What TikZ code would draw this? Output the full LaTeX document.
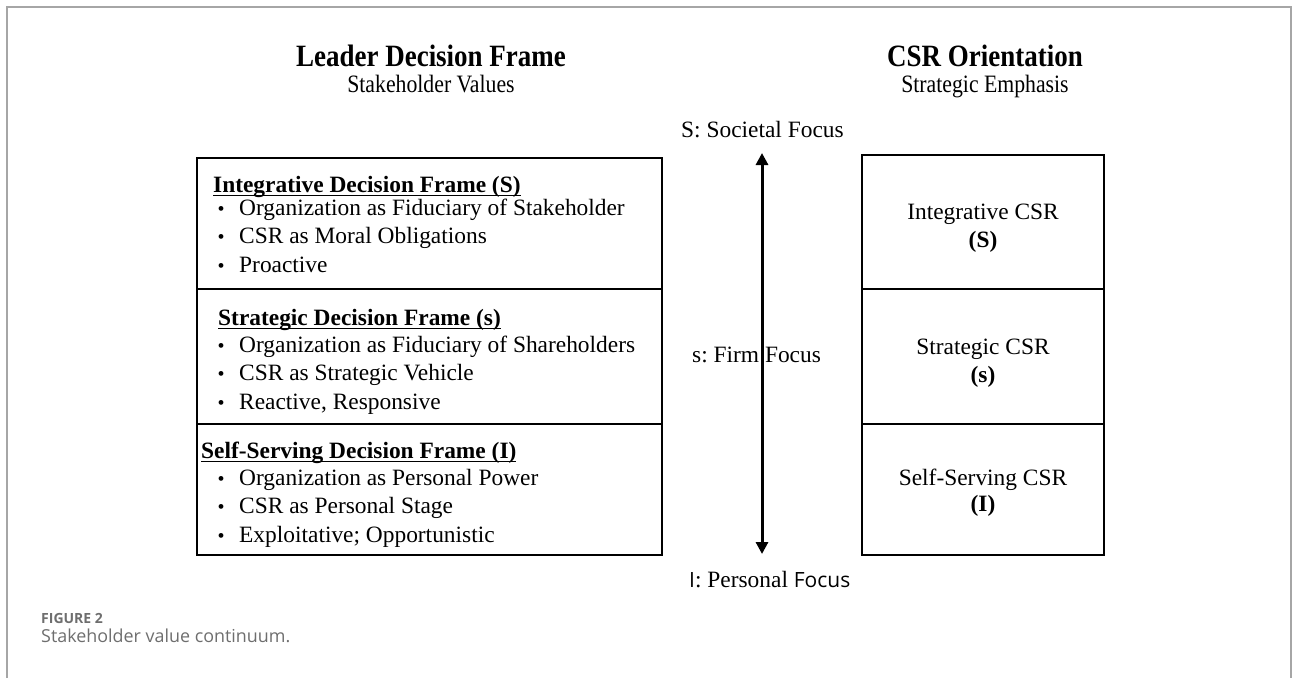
\documentclass[tikz,border=0pt]{standalone}
\usepackage{fontspec}
\setmainfont{Liberation Serif}
\newfontfamily\headfont{Liberation Serif}[FakeStretch=0.87]
\newfontfamily\capfont{Open Sans}
\usetikzlibrary{arrows.meta}
\definecolor{framegray}{HTML}{A6A6A6}
\definecolor{capgray}{HTML}{6E6E6E}
\frenchspacing
% underline drawn just below the baseline
\newcommand\frameul[1]{\setbox0\hbox{#1}\rlap{\rule[-4pt]{\wd0}{1.4pt}}\box0}
\begin{document}
\begin{tikzpicture}[x=1pt,y=-1pt,
  body/.style={inner sep=0pt, anchor=base west, font=\fontsize{23.4}{28}\selectfont},
  bodyc/.style={body, anchor=base},
  bullet/.style={inner sep=0pt, anchor=base, font=\fontsize{20}{24}\selectfont},
  headttl/.style={inner sep=0pt, anchor=base, font=\headfont\bfseries\fontsize{31}{36}\selectfont},
  headsub/.style={inner sep=0pt, anchor=base, font=\headfont\fontsize{25}{30}\selectfont},
  framebox/.style={draw, line width=1.8pt, inner sep=0pt, minimum width=465pt},
  csrbox/.style={draw, line width=1.8pt, inner sep=0pt, minimum width=242pt},
  scale arrow/.style={line width=3pt, {Triangle[length=12pt,width=12pt]}-{Triangle[length=12pt,width=12pt]}}
]
\useasboundingbox (0,0) rectangle (1293,678);
% page frame
\draw[framegray, line width=2pt] (7,678) -- (7,7) -- (1291,7) -- (1291,678);

% column headings
\node[headttl] (lt) at (431,66) {Leader Decision Frame};
\node[headsub] (ls) at (431,92) {Stakeholder Values};
\node[headttl] (rt) at (985,66) {CSR Orientation};
\node[headsub] (rs) at (985,92) {Strategic Emphasis};

% leader decision frames
\node[framebox, minimum height=131pt] (f1) at (429.5,223.5) {};
\node[framebox, minimum height=135pt] (f2) at (429.5,356.5) {};
\node[framebox, minimum height=131pt] (f3) at (429.5,489.5) {};

\node[body, font=\fontsize{23.4}{28}\selectfont\bfseries] (f1h) at (213,192) {\frameul{Integrative Decision Frame (S)}};
\node[bullet] (f1b1) at (221,215) {•};
\node[body] (f1t1) at (239,215) {Organization as Fiduciary of Stakeholder};
\node[bullet] (f1b2) at (221,243) {•};
\node[body] (f1t2) at (239,243) {CSR as Moral Obligations};
\node[bullet] (f1b3) at (221,272) {•};
\node[body] (f1t3) at (239,272) {Proactive};

\node[body, font=\fontsize{23.4}{28}\selectfont\bfseries] (f2h) at (218,325) {\frameul{Strategic Decision Frame (s)}};
\node[bullet] (f2b1) at (221,352) {•};
\node[body] (f2t1) at (239,352) {Organization as Fiduciary of Shareholders};
\node[bullet] (f2b2) at (221,380) {•};
\node[body] (f2t2) at (239,380) {CSR as Strategic Vehicle};
\node[bullet] (f2b3) at (221,409) {•};
\node[body] (f2t3) at (239,409) {Reactive, Responsive};

\node[body, font=\fontsize{23.4}{28}\selectfont\bfseries] (f3h) at (201,458) {\frameul{Self-Serving Decision Frame (I)}};
\node[bullet] (f3b1) at (221,485) {•};
\node[body] (f3t1) at (239,485) {Organization as Personal Power};
\node[bullet] (f3b2) at (221,513) {•};
\node[body] (f3t2) at (239,513) {CSR as Personal Stage};
\node[bullet] (f3b3) at (221,542) {•};
\node[body] (f3t3) at (239,542) {Exploitative; Opportunistic};

% CSR orientations
\node[csrbox, minimum height=134pt] (c1) at (983,222) {};
\node[csrbox, minimum height=135pt] (c2) at (983,356.5) {};
\node[csrbox, minimum height=131pt] (c3) at (983,489.5) {};
\node[bodyc] (c1t) at (983,219) {Integrative CSR};
\node[bodyc, font=\fontsize{23.4}{28}\selectfont\bfseries] (c1s) at (983,247) {(S)};
\node[bodyc] (c2t) at (983,354) {Strategic CSR};
\node[bodyc, font=\fontsize{23.4}{28}\selectfont\bfseries] (c2s) at (983,382) {(s)};
\node[bodyc] (c3t) at (983,485) {Self-Serving CSR};
\node[bodyc, font=\fontsize{23.4}{28}\selectfont\bfseries] (c3s) at (983,511) {(I)};

% focus continuum
\coordinate (atop) at (762,153);
\coordinate (abot) at (762,554);
\draw[scale arrow] (atop) -- (abot);
\node[body] (sfocus) at (681,137) {S: Societal Focus};
\node[body] (ffocus) at (692,362) {s: Firm Focus};
\node[body] (pfocus) at (689,587) {{\capfont\fontsize{21}{25}\selectfont I}: Personal {\capfont\fontsize{21}{25}\selectfont Focus}};

% caption
\node[inner sep=0pt, anchor=base west, text=capgray, font=\capfont\bfseries\fontsize{14}{17}\selectfont] (figno) at (41,623) {FIGURE 2};
\node[inner sep=0pt, anchor=base west, text=capgray, font=\capfont\fontsize{17.9}{21}\selectfont] (figcap) at (41,642) {Stakeholder value continuum.};
\end{tikzpicture}
\end{document}
